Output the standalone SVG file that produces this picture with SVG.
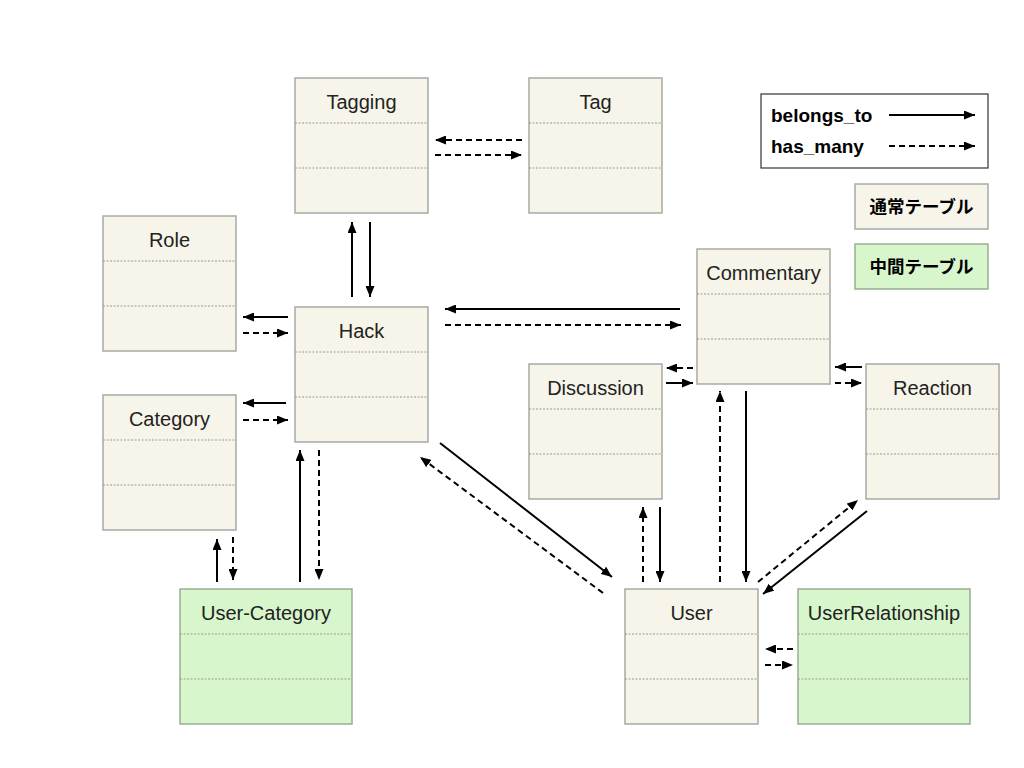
<svg xmlns="http://www.w3.org/2000/svg" width="1024" height="768" viewBox="0 0 1024 768">
<style>
.box{fill:#f7f5e9;stroke:#a9a9a5;stroke-width:1.5}
.mid{fill:#d8f6cc;stroke:#98ae92;stroke-width:1.5}
.div{stroke:#9a9a96;stroke-width:1;stroke-dasharray:2,1.5}
.t{font-family:"Liberation Sans",Arial,sans-serif;font-size:20px;fill:#222;text-anchor:middle}
.s{stroke:#000;stroke-width:2;fill:none;marker-end:url(#ah)}
.d{stroke:#000;stroke-width:2;fill:none;stroke-dasharray:6,4;marker-end:url(#ah)}
.lg{font-family:"Liberation Sans",Arial,sans-serif;font-size:19px;font-weight:bold;fill:#000}
.jp{font-family:"Noto Sans CJK JP",sans-serif;font-size:17.5px;font-weight:bold;fill:#000;text-anchor:middle}
</style>
<defs>
<marker id="ah" viewBox="0 0 11 9" markerWidth="11" markerHeight="9" refX="11" refY="4.5" orient="auto" markerUnits="userSpaceOnUse">
<path d="M0,0 L11,4.5 L0,9 Z" fill="#000"/>
</marker>
</defs>
<g id="legend">
<rect x="761" y="94" width="227" height="74" fill="#fff" stroke="#333" stroke-width="1.2"/>
<text class="lg" x="771" y="122">belongs_to</text>
<text class="lg" x="771" y="153">has_many</text>
<line class="s" x1="889" y1="115" x2="975" y2="115"/>
<line class="d" x1="889" y1="146" x2="975" y2="146"/>
</g>
<g id="legend-normal">
<rect class="box" x="855" y="184" width="133" height="45"/>
<text class="jp" x="921.5" y="213">通常テーブル</text>
</g>
<g id="legend-middle">
<rect class="mid" x="855" y="244" width="133" height="45"/>
<text class="jp" x="921.5" y="273">中間テーブル</text>
</g>
<g id="tagging">
<rect class="box" x="295" y="78" width="133" height="135"/>
<line class="div" x1="295" y1="123" x2="428" y2="123"/>
<line class="div" x1="295" y1="168" x2="428" y2="168"/>
<text class="t" x="361.5" y="109">Tagging</text>
</g>
<g id="tag">
<rect class="box" x="529" y="78" width="133" height="135"/>
<line class="div" x1="529" y1="123" x2="662" y2="123"/>
<line class="div" x1="529" y1="168" x2="662" y2="168"/>
<text class="t" x="595.5" y="109">Tag</text>
</g>
<g id="role">
<rect class="box" x="103" y="216" width="133" height="135"/>
<line class="div" x1="103" y1="261" x2="236" y2="261"/>
<line class="div" x1="103" y1="306" x2="236" y2="306"/>
<text class="t" x="169.5" y="247">Role</text>
</g>
<g id="hack">
<rect class="box" x="295" y="307" width="133" height="135"/>
<line class="div" x1="295" y1="352" x2="428" y2="352"/>
<line class="div" x1="295" y1="397" x2="428" y2="397"/>
<text class="t" x="361.5" y="338">Hack</text>
</g>
<g id="category">
<rect class="box" x="103" y="395" width="133" height="135"/>
<line class="div" x1="103" y1="440" x2="236" y2="440"/>
<line class="div" x1="103" y1="485" x2="236" y2="485"/>
<text class="t" x="169.5" y="426">Category</text>
</g>
<g id="commentary">
<rect class="box" x="697" y="249" width="133" height="135"/>
<line class="div" x1="697" y1="294" x2="830" y2="294"/>
<line class="div" x1="697" y1="339" x2="830" y2="339"/>
<text class="t" x="763.5" y="280">Commentary</text>
</g>
<g id="discussion">
<rect class="box" x="529" y="364" width="133" height="135"/>
<line class="div" x1="529" y1="409" x2="662" y2="409"/>
<line class="div" x1="529" y1="454" x2="662" y2="454"/>
<text class="t" x="595.5" y="395">Discussion</text>
</g>
<g id="reaction">
<rect class="box" x="866" y="364" width="133" height="135"/>
<line class="div" x1="866" y1="409" x2="999" y2="409"/>
<line class="div" x1="866" y1="454" x2="999" y2="454"/>
<text class="t" x="932.5" y="395">Reaction</text>
</g>
<g id="user-category">
<rect class="mid" x="180" y="589" width="172" height="135"/>
<line class="div" x1="180" y1="634" x2="352" y2="634"/>
<line class="div" x1="180" y1="679" x2="352" y2="679"/>
<text class="t" x="266" y="620">User-Category</text>
</g>
<g id="user">
<rect class="box" x="625" y="589" width="133" height="135"/>
<line class="div" x1="625" y1="634" x2="758" y2="634"/>
<line class="div" x1="625" y1="679" x2="758" y2="679"/>
<text class="t" x="691.5" y="620">User</text>
</g>
<g id="userrelationship">
<rect class="mid" x="798" y="589" width="172" height="135"/>
<line class="div" x1="798" y1="634" x2="970" y2="634"/>
<line class="div" x1="798" y1="679" x2="970" y2="679"/>
<text class="t" x="884" y="620">UserRelationship</text>
</g>
<g id="connectors">
<line class="d" x1="522" y1="140" x2="435" y2="140"/>
<line class="d" x1="435" y1="155" x2="522" y2="155"/>
<line class="s" x1="352" y1="297" x2="352" y2="222"/>
<line class="s" x1="370" y1="222" x2="370" y2="297"/>
<line class="s" x1="288" y1="317" x2="243" y2="317"/>
<line class="d" x1="243" y1="333" x2="288" y2="333"/>
<line class="s" x1="286" y1="403" x2="243" y2="403"/>
<line class="d" x1="243" y1="420" x2="288" y2="420"/>
<line class="s" x1="680" y1="309" x2="445" y2="309"/>
<line class="d" x1="445" y1="325" x2="681" y2="325"/>
<line class="d" x1="693" y1="368" x2="666" y2="368"/>
<line class="s" x1="666" y1="383" x2="693" y2="383"/>
<line class="s" x1="862" y1="367" x2="835" y2="367"/>
<line class="d" x1="835" y1="383" x2="862" y2="383"/>
<line class="s" x1="440" y1="443" x2="612" y2="577"/>
<line class="d" x1="603" y1="593" x2="420" y2="457"/>
<line class="d" x1="643" y1="582" x2="643" y2="507"/>
<line class="s" x1="660" y1="507" x2="660" y2="582"/>
<line class="d" x1="720" y1="582" x2="720" y2="391"/>
<line class="s" x1="746" y1="391" x2="746" y2="582"/>
<line class="d" x1="758" y1="582" x2="858" y2="500"/>
<line class="s" x1="867" y1="511" x2="763" y2="594"/>
<line class="d" x1="793" y1="649" x2="765" y2="649"/>
<line class="d" x1="765" y1="665" x2="793" y2="665"/>
<line class="s" x1="217" y1="582" x2="217" y2="539"/>
<line class="d" x1="233" y1="537" x2="233" y2="580"/>
<line class="s" x1="300" y1="582" x2="300" y2="450"/>
<line class="d" x1="319" y1="450" x2="319" y2="580"/>
</g>
</svg>
